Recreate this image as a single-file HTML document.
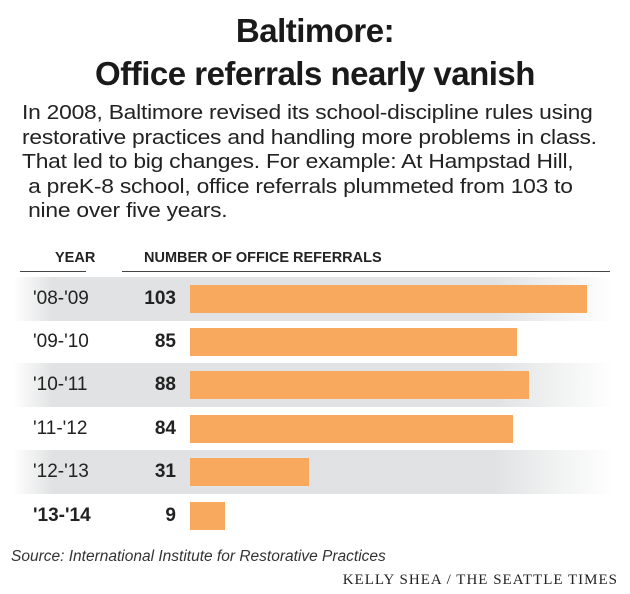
<!DOCTYPE html>
<html><head><meta charset="utf-8"><style>
body{margin:0;width:630px;height:594px;background:#fff;font-family:"Liberation Sans",sans-serif;color:#222;position:relative;overflow:hidden}
.t{position:absolute;left:0;width:630px;text-align:center;font-weight:bold;font-size:33px;letter-spacing:-0.5px;color:#1a1a1a}
.p{position:absolute;left:22px;top:101px;font-size:20px;line-height:24.6px;color:#222;letter-spacing:-0.2px;transform:scaleX(1.14);transform-origin:0 0;white-space:nowrap}
.h{position:absolute;top:250px;font-weight:bold;font-size:14.5px;color:#222}
.ln{position:absolute;top:271px;height:1px;background:#444}
.band{position:absolute;left:13px;width:600px;height:44px;background:linear-gradient(to right,rgba(225,226,227,0) 0,#e1e2e3 40px,#e1e2e3 480px,rgba(225,226,227,0) 600px)}
.yr{position:absolute;left:33px;width:80px;font-size:19px}
.n{position:absolute;left:120px;width:56px;text-align:right;font-size:19px;font-weight:bold}
.bar{position:absolute;left:190px;height:28px;background:#f8a95e}
</style></head><body>
<div class="t" style="top:12px">Baltimore:</div>
<div class="t" style="top:55px">Office referrals nearly vanish</div>
<div class="p">In 2008, Baltimore revised its school-discipline rules using<br>restorative practices and handling more problems in class.<br>That led to big changes. For example: At Hampstad Hill,<br>&nbsp;a preK-8 school, office referrals plummeted from 103 to<br>&nbsp;nine over five years.</div>
<div class="h" style="left:55px">YEAR</div>
<div class="h" style="left:144px">NUMBER OF OFFICE REFERRALS</div>
<div class="ln" style="left:20px;width:66px"></div>
<div class="ln" style="left:122px;width:488px"></div>

<div class="band" style="top:277px"></div>
<div class="band" style="top:363px"></div>
<div class="band" style="top:450px"></div>

<div class="yr" style="top:288px">'08-'09</div><div class="n" style="top:288px">103</div><div class="bar" style="top:285px;width:397px"></div>
<div class="yr" style="top:331px">'09-'10</div><div class="n" style="top:331px">85</div><div class="bar" style="top:328px;width:327px"></div>
<div class="yr" style="top:374px">'10-'11</div><div class="n" style="top:374px">88</div><div class="bar" style="top:371px;width:339px"></div>
<div class="yr" style="top:418px">'11-'12</div><div class="n" style="top:418px">84</div><div class="bar" style="top:415px;width:323px"></div>
<div class="yr" style="top:461px">'12-'13</div><div class="n" style="top:461px">31</div><div class="bar" style="top:458px;width:119px"></div>
<div class="yr" style="top:505px;font-weight:bold">'13-'14</div><div class="n" style="top:505px">9</div><div class="bar" style="top:502px;width:35px"></div>

<div style="position:absolute;left:11px;top:548px;font-style:italic;font-size:15.5px;color:#333">Source: International Institute for Restorative Practices</div>
<div style="position:absolute;right:12px;top:572px;font-family:'Liberation Serif',serif;font-size:15px;letter-spacing:1px;color:#222">KELLY SHEA / THE SEATTLE TIMES</div>
</body></html>
